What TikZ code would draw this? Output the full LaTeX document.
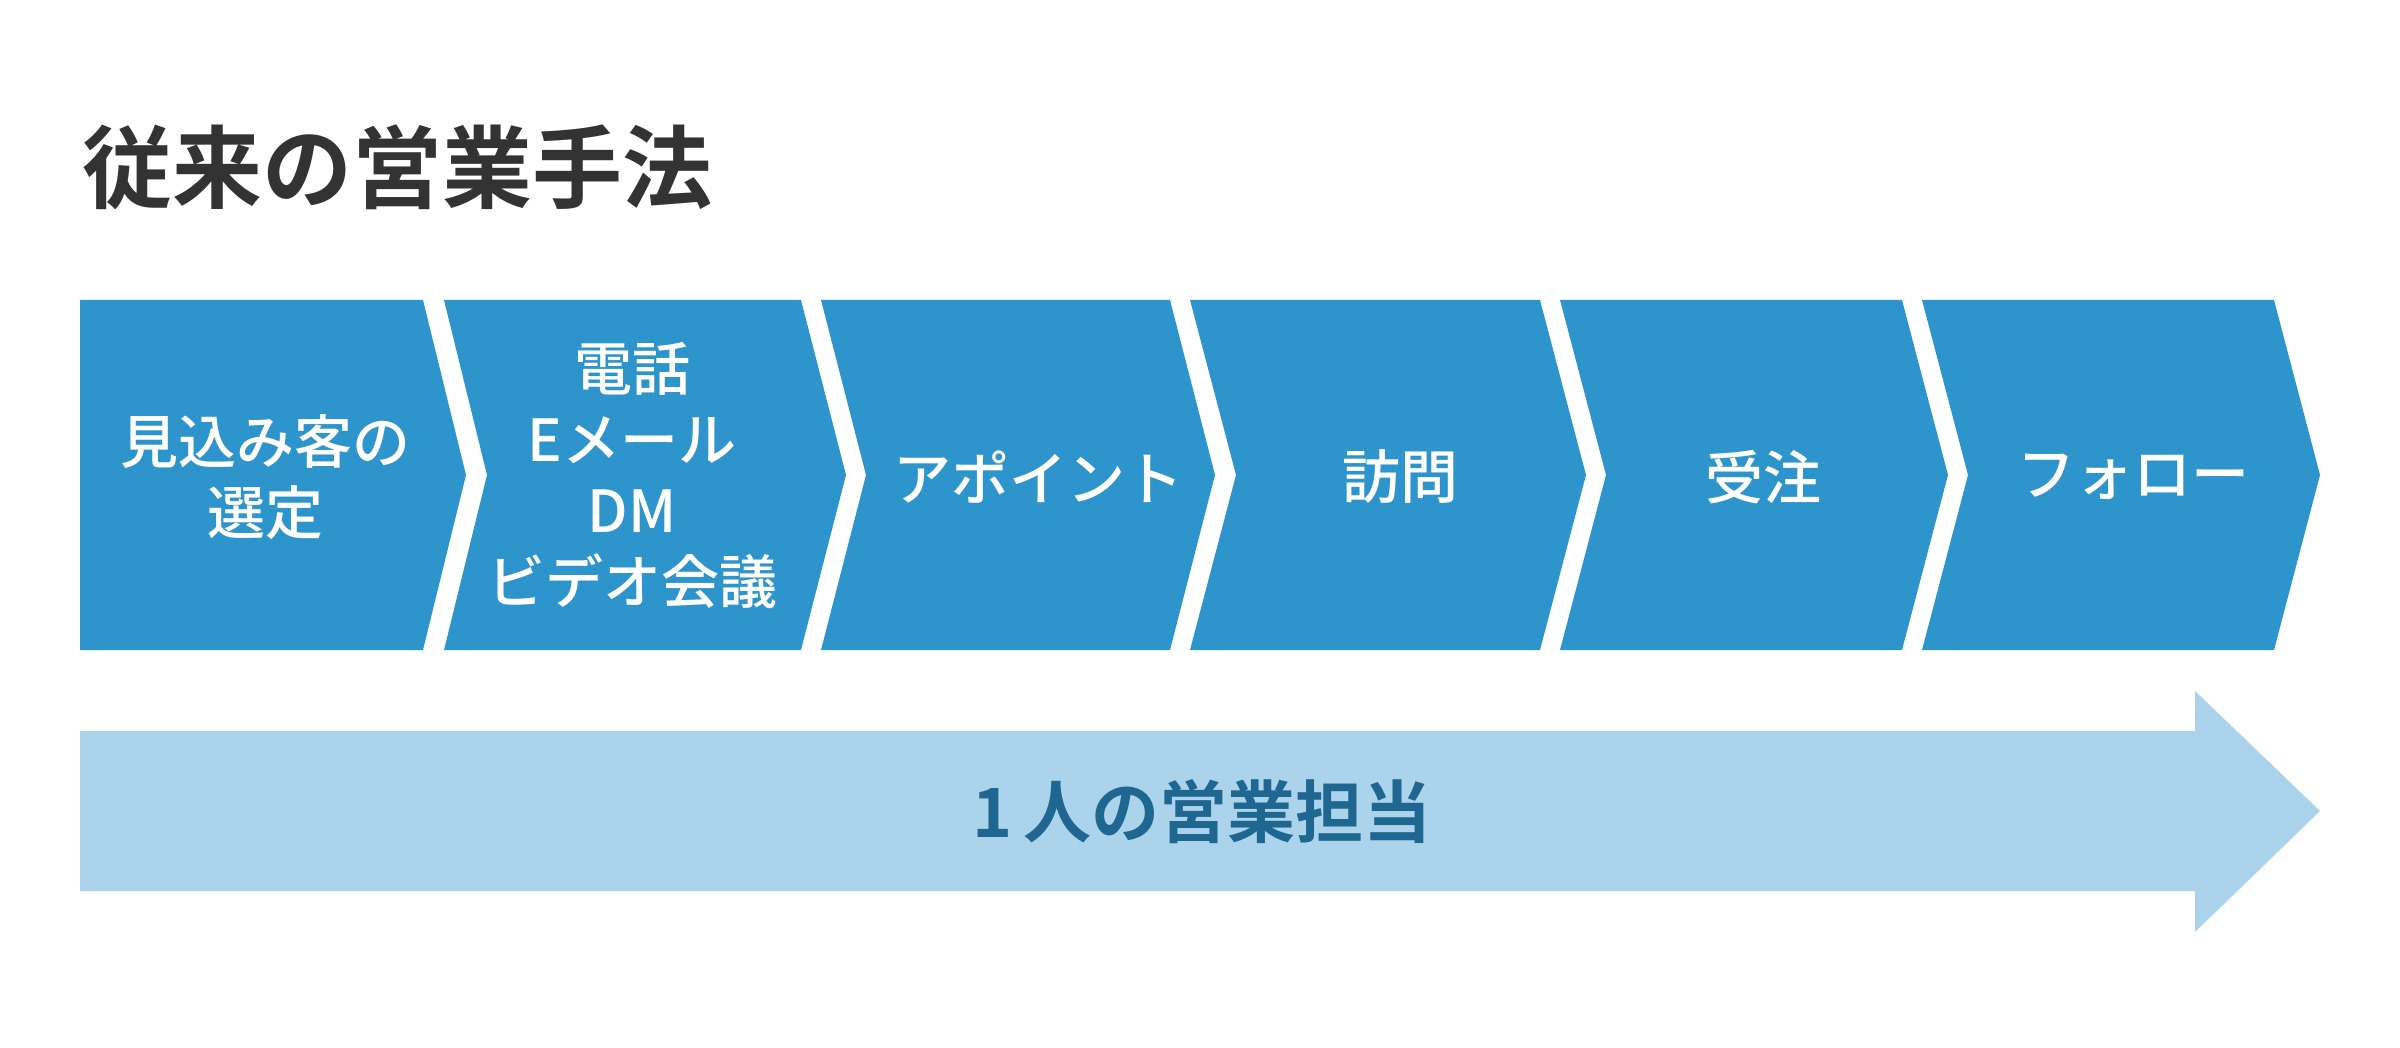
\documentclass[tikz,border=0pt]{standalone}
\usepackage{fontspec}
\setmainfont{Noto Sans CJK JP}[BoldFont={* Bold}]
\newfontfamily\jpmed{Noto Sans CJK JP Medium}
\definecolor{chev}{RGB}{46,149,204}
\definecolor{band}{RGB}{171,211,235}
\definecolor{bandtext}{RGB}{31,102,145}
\definecolor{titlec}{RGB}{51,51,51}
\tikzset{
  chevron/.style={fill=chev, draw=none},
  bandshape/.style={fill=band, draw=none},
  steptext/.style={text=white, font=\jpmed\fontsize{58}{71}\selectfont, align=center, inner sep=0pt},
  bandlabel/.style={text=bandtext, font=\bfseries\fontsize{68}{68}\selectfont, inner sep=0pt},
  titletext/.style={text=titlec, font=\bfseries\fontsize{90}{90}\selectfont, inner sep=0pt, anchor=west}
}
\begin{document}
\begin{tikzpicture}[x=1pt,y=-1pt]
\useasboundingbox (0,0) rectangle (2400,1048);
% chevrons
\fill[chevron] (80,300) -- (423,300) -- (466,475) -- (423,650) -- (80,650) -- cycle;
\fill[chevron] (444,300) -- (801,300) -- (846,475) -- (801,650) -- (444,650) -- (487,475) -- cycle;
\fill[chevron] (821,300) -- (1170,300) -- (1215,475) -- (1170,650) -- (821,650) -- (866,475) -- cycle;
\fill[chevron] (1190,300) -- (1540,300) -- (1586,475) -- (1540,650) -- (1190,650) -- (1236,475) -- cycle;
\fill[chevron] (1560,300) -- (1902,300) -- (1948,475) -- (1902,650) -- (1560,650) -- (1606,475) -- cycle;
\fill[chevron] (1922,300) -- (2274,300) -- (2320,475) -- (2274,650) -- (1922,650) -- (1968,475) -- cycle;
% band arrow
\fill[bandshape] (80,731) -- (2195,731) -- (2195,691) -- (2320,811) -- (2195,932) -- (2195,891) -- (80,891) -- cycle;
% texts
\node[titletext] (title) at (82,167) {従来の営業手法};
\node[steptext] (t1) at (265,477) {見込み客の\\選定};
\node[steptext] (t2) at (632,476) {電話\\Eメール\\DM\\ビデオ会議};
\node[steptext] (t3) at (1038,477) {アポイント};
\node[steptext] (t4) at (1400,477) {訪問};
\node[steptext] (t5) at (1763,477) {受注};
\node[steptext] (t6) at (2133,477) {フォロー};
\node[bandlabel] (who) at (1202,812) {1\,人の営業担当};
\end{tikzpicture}
\end{document}
